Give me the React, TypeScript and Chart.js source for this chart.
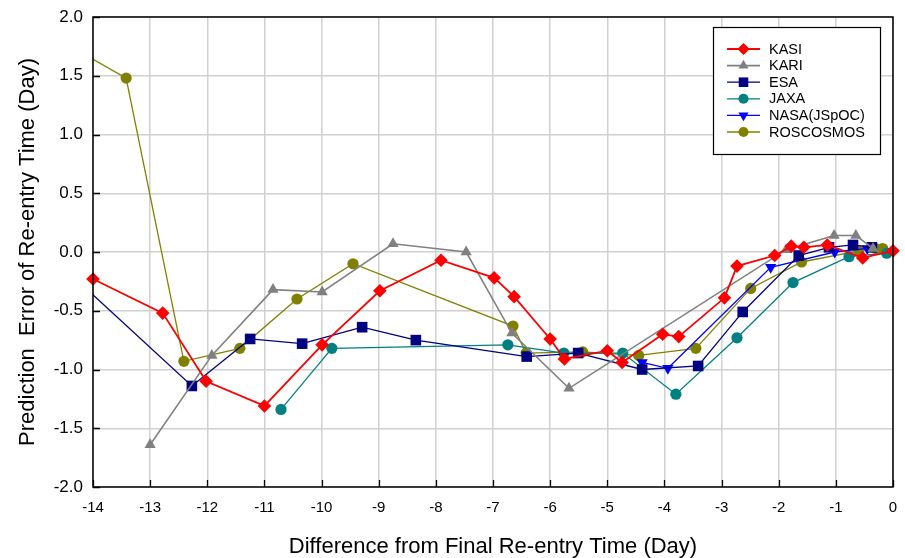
import React, { useEffect, useRef } from 'react';
import { Chart, registerables } from 'chart.js';

Chart.register(...registerables);

// ---- data ----
const xTickValues = [-14, -13, -12, -11, -10, -9, -8, -7, -6, -5, -4, -3, -2, -1, 0];
const yTickValues = [-2.0, -1.5, -1.0, -0.5, 0.0, 0.5, 1.0, 1.5, 2.0];

const seriesNames = ['KASI', 'KARI', 'ESA', 'JAXA', 'NASA(JSpOC)', 'ROSCOSMOS'];

const kasiX = [-14, -12.78, -12.02, -11.0, -9.99, -8.98, -7.91, -6.98, -6.63, -6.0, -5.75, -5.0, -4.74, -4.03, -3.75, -2.95, -2.73, -2.07, -1.78, -1.56, -1.15, -0.53, 0];
const kasiY = [-0.23, -0.52, -1.10, -1.31, -0.79, -0.33, -0.07, -0.22, -0.38, -0.74, -0.91, -0.84, -0.94, -0.70, -0.72, -0.39, -0.12, -0.03, 0.05, 0.04, 0.06, -0.05, 0.01];

const kariX = [-13.0, -11.92, -10.85, -9.99, -8.75, -7.47, -6.67, -5.67, -1.87, -1.03, -0.65, -0.35];
const kariY = [-1.64, -0.88, -0.32, -0.34, 0.07, 0.0, -0.69, -1.16, 0.02, 0.14, 0.14, 0.03];

const esaX = [-14.5, -12.27, -11.25, -10.34, -9.29, -8.35, -6.41, -5.51, -4.39, -3.41, -2.63, -1.65, -1.12, -0.70, -0.37];
const esaY = [-0.14, -1.14, -0.74, -0.78, -0.64, -0.75, -0.89, -0.86, -1.0, -0.97, -0.51, -0.03, 0.04, 0.06, 0.04];

const jaxaX = [-10.71, -9.82, -6.74, -5.76, -4.73, -3.80, -2.73, -1.75, -0.77, -0.11];
const jaxaY = [-1.34, -0.82, -0.79, -0.86, -0.86, -1.21, -0.73, -0.26, -0.04, -0.01];

const nasaX = [-4.39, -3.94, -2.14, -1.02, -0.45];
const nasaY = [-0.94, -0.99, -0.13, 0.0, 0.03];

const roscosmosX = [-14.5, -13.42, -12.41, -11.43, -10.43, -9.45, -6.65, -6.42, -5.43, -4.45, -3.45, -2.49, -1.6, -0.6, -0.3, -0.18];
const roscosmosY = [1.78, 1.48, -0.93, -0.82, -0.40, -0.10, -0.63, -0.86, -0.85, -0.88, -0.82, -0.31, -0.085, 0.01, 0.03, 0.03];

// ---- styles ----
const FONT = '"Liberation Sans", Arial, Helvetica, sans-serif';

type SeriesStyle = {
  color: string;
  style: string;
  radius: number;
  rotation: number;
  width: number;
};

const styles: SeriesStyle[] = [
  { color: '#FF0000', style: 'rectRot', radius: 6.8, rotation: 0, width: 1.8 },
  { color: '#808080', style: 'triangle', radius: 6.5, rotation: 0, width: 1.6 },
  { color: '#000080', style: 'rect', radius: 7.5, rotation: 0, width: 1.3 },
  { color: '#008080', style: 'circle', radius: 5.6, rotation: 0, width: 1.3 },
  { color: '#0000FF', style: 'triangle', radius: 6.5, rotation: 180, width: 1.3 },
  { color: '#808000', style: 'circle', radius: 5.6, rotation: 0, width: 1.3 },
];

const pairs = (xs: number[], ys: number[]) => xs.map((x, i) => ({ x, y: ys[i] }));

function drawMarker(ctx: CanvasRenderingContext2D, s: SeriesStyle, x: number, y: number) {
  const r = s.radius;
  ctx.beginPath();
  if (s.style === 'circle') {
    ctx.arc(x, y, r, 0, Math.PI * 2);
  } else if (s.style === 'rect') {
    const h = r * Math.SQRT1_2;
    ctx.rect(x - h, y - h, 2 * h, 2 * h);
  } else if (s.style === 'rectRot') {
    ctx.moveTo(x, y - r);
    ctx.lineTo(x + r, y);
    ctx.lineTo(x, y + r);
    ctx.lineTo(x - r, y);
    ctx.closePath();
  } else if (s.style === 'triangle') {
    const rad = (s.rotation * Math.PI) / 180;
    for (let k = 0; k < 3; k++) {
      const a = rad + (k * 2 * Math.PI) / 3;
      const px = x + Math.sin(a) * r;
      const py = y - Math.cos(a) * r;
      if (k === 0) ctx.moveTo(px, py);
      else ctx.lineTo(px, py);
    }
    ctx.closePath();
  }
  ctx.fillStyle = s.color;
  ctx.fill();
}

const framePlugin = {
  id: 'framePlugin',
  afterDatasetsDraw(chart: any) {
    const { ctx, chartArea } = chart;
    const { left, right, top, bottom } = chartArea;
    const xs = chart.scales.x;
    const ys = chart.scales.y;
    ctx.save();
    // inward ticks
    ctx.strokeStyle = '#000';
    ctx.lineWidth = 1.3;
    ctx.beginPath();
    xs.ticks.forEach((t: any) => {
      const px = Math.round(xs.getPixelForValue(t.value)) + 0.5;
      ctx.moveTo(px, bottom);
      ctx.lineTo(px, bottom - 7);
    });
    ys.ticks.forEach((t: any) => {
      const py = Math.round(ys.getPixelForValue(t.value)) + 0.5;
      ctx.moveTo(left, py);
      ctx.lineTo(left + 7, py);
    });
    ctx.stroke();
    // frame
    ctx.lineWidth = 1.5;
    ctx.strokeRect(left, top, right - left, bottom - top);

    // legend
    const bx = right - 180;
    const by = top + 10;
    const bw = 167;
    const bh = 127;
    ctx.fillStyle = '#fff';
    ctx.fillRect(bx, by, bw, bh);
    ctx.strokeStyle = '#000';
    ctx.lineWidth = 1.2;
    ctx.strokeRect(bx + 0.5, by + 0.5, bw, bh);
    ctx.font = `14.5px ${FONT}`;
    ctx.textBaseline = 'middle';
    ctx.textAlign = 'left';
    seriesNames.forEach((name, i) => {
      const s = { ...styles[i], radius: styles[i].radius * 0.9 };
      const yy = by + 22 + i * 16.6;
      ctx.strokeStyle = s.color;
      ctx.lineWidth = s.width;
      ctx.beginPath();
      ctx.moveTo(bx + 14, yy);
      ctx.lineTo(bx + 47, yy);
      ctx.stroke();
      drawMarker(ctx, s, bx + 30.5, yy);
      ctx.fillStyle = '#000';
      ctx.fillText(name, bx + 56, yy + 0.5);
    });
    ctx.restore();
  },
};

export default function App() {
  const canvasRef = useRef<HTMLCanvasElement | null>(null);

  useEffect(() => {
    if (!canvasRef.current) return;
    const seriesData = [
      pairs(kasiX, kasiY),
      pairs(kariX, kariY),
      pairs(esaX, esaY),
      pairs(jaxaX, jaxaY),
      pairs(nasaX, nasaY),
      pairs(roscosmosX, roscosmosY),
    ];
    const clipped = [false, false, true, false, false, true];
    const chart = new Chart(canvasRef.current, {
      type: 'line',
      data: {
        datasets: seriesNames.map((name, i) => ({
          label: name,
          data: seriesData[i],
          borderColor: styles[i].color,
          backgroundColor: styles[i].color,
          borderWidth: styles[i].width,
          pointStyle: styles[i].style as any,
          pointRadius: styles[i].radius,
          pointRotation: styles[i].rotation,
          pointBorderWidth: 0,
          pointBackgroundColor: styles[i].color,
          pointBorderColor: styles[i].color,
          tension: 0,
          fill: false,
          clip: clipped[i] ? ({ left: 0, top: 10, right: 10, bottom: 10 } as any) : (false as any),
        })),
      },
      options: {
        animation: false,
        responsive: false,
        devicePixelRatio: 1,
        layout: { padding: { top: 17, right: 12, left: 0, bottom: 0 } },
        plugins: {
          legend: { display: false },
          tooltip: { enabled: false },
        },
        scales: {
          x: {
            type: 'linear',
            min: -14,
            max: 0,
            afterBuildTicks: (scale: any) => {
              scale.ticks = xTickValues.map((v) => ({ value: v }));
            },
            afterFit: (scale: any) => {
              scale.height = 71;
              scale.paddingLeft = 0;
              scale.paddingRight = 0;
            },
            ticks: {
              autoSkip: false,
              maxRotation: 0,
              padding: 12,
              color: '#000',
              font: { family: FONT, size: 15 },
              callback: (v: any) => String(v),
            },
            grid: { color: 'rgb(208,208,208)', lineWidth: 1.5, drawTicks: false },
            border: { display: false },
            title: {
              display: true,
              text: 'Difference from Final Re-entry Time (Day)',
              color: '#000',
              font: { family: FONT, size: 22, lineHeight: 1.0 },
              padding: { top: 0, bottom: 0 },
            },
          },
          y: {
            type: 'linear',
            min: -2,
            max: 2,
            afterBuildTicks: (scale: any) => {
              scale.ticks = yTickValues.map((v) => ({ value: v }));
            },
            afterFit: (scale: any) => {
              scale.width = 93;
              scale.paddingTop = 0;
              scale.paddingBottom = 0;
            },
            ticks: {
              padding: 10,
              color: '#000',
              font: { family: FONT, size: 17 },
              callback: (v: any) => Number(v).toFixed(1),
            },
            grid: { color: 'rgb(208,208,208)', lineWidth: 1.5, drawTicks: false },
            border: { display: false },
            title: {
              display: true,
              text: 'Prediction  Error of Re-entry Time (Day)',
              color: '#000',
              font: { family: FONT, size: 22, lineHeight: 1.0 },
              padding: { top: 17, bottom: 0 },
            },
          },
        },
      },
      plugins: [framePlugin],
    });
    return () => chart.destroy();
  }, []);

  return (
    <div style={{ position: 'absolute', left: 0, top: 0, width: 905, height: 558, background: '#fff' }}>
      <canvas ref={canvasRef} width={905} height={558} style={{ display: 'block', width: 905, height: 558 }} />
    </div>
  );
}
